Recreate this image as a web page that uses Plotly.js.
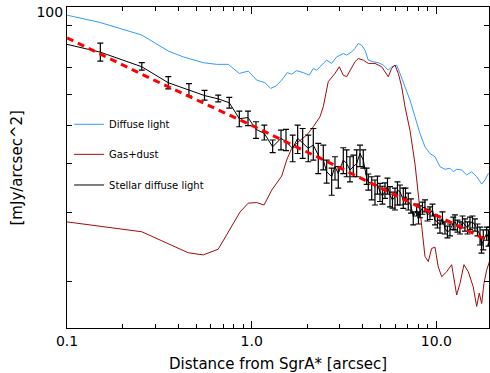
<!DOCTYPE html>
<html>
<head>
<meta charset="utf-8">
<script src="https://cdn.plot.ly/plotly-3.0.1.min.js"></script>
<style>html,body{margin:0;padding:0;background:#fff;}#chart{width:490px;height:373px;}</style>
</head>
<body>
<div id="chart"></div>
<script>
// ---- Data ----
const xTickVals = [0.1, 1, 10];
const xTickText = ['0.1', '1.0', '10.0'];
const xMinorVals = [0.2,0.3,0.4,0.5,0.6,0.7,0.8,0.9,2,3,4,5,6,7,8,9];
const yTickVals = [100];
const yTickText = ['100'];
const yMinorVals = [20,30,40,50,60,70,90];

const diffuseX = [0.100,0.151,0.254,0.354,0.426,0.547,0.646,0.747,0.857,0.958,1.064,1.18,1.267,1.354,1.454,1.558,1.647,1.752,1.903,2.05,2.156,2.248,2.343,2.547,2.711,2.886,3.133,3.268,3.478,3.625,3.778,3.941,4.107,4.28,4.555,4.849,5.159,5.491,5.728,6.096,6.353,6.761,7.195,7.658,8.15,8.675,9.234,9.826,10.46,11.13,11.85,12.35,12.88,13.71,14.59,15.53,16.53,17.59,18.33,19.1,19.5];
const diffuseY = [95.4,91.4,84.9,77.3,74.7,72.2,71.5,71.5,67.8,68.7,65.2,64.2,62.1,63.0,65.2,68.1,67.5,68.9,68.1,67.1,69.8,69.1,70.5,73.3,71.9,74.7,76.2,75.5,76.9,78.5,80.8,80.0,77.7,73.3,72.6,72.2,71.2,69.1,70.5,71.2,67.8,62.7,58.0,52.6,47.7,44.1,42.4,41.6,39.25,38.65,38.9,38.1,38.65,38.5,37.4,38.1,37.0,35.45,36.3,37.7,37.4];

const gasX = [0.1,0.254,0.4535,0.547,0.659,0.763,0.865,0.958,1.064,1.166,1.283,1.454,1.547,1.647,1.788,1.985,2.156,2.343,2.442,2.598,2.825,2.981,3.133,3.268,3.405,3.625,3.778,4.021,4.28,4.652,5.057,5.491,5.728,5.969,6.221,6.49,6.761,7.195,7.658,7.98,8.325,8.675,9.04,9.43,9.826,10.24,10.69,11.37,12.10,12.61,12.88,13.42,14.11,14.89,15.84,16.53,17.07,17.59,18.10,18.72,19.5];
const gasY = [28.4,26.8,23.7,23.4,24.2,27.35,30.1,31.7,31.8,31.35,34.2,37.15,40.8,43.7,45.4,47.2,49.6,52.6,55.8,64.6,67.8,70.5,67.1,66.5,69.1,72.6,74.0,73.3,71.9,71.9,70.5,66.5,69.8,71.2,67.8,62.7,55.8,48.6,40.0,33.6,27.6,23.2,22.5,24.3,24.5,21.8,20.6,21.2,22.1,19.8,18.5,19.8,22.1,21.2,19.4,17.3,18.7,17.6,19.8,21.4,22.7];

const stellarX = [0.1,0.1515,0.254,0.3536,0.4575,0.5553,0.659,0.756,0.857,0.955,1.055,1.17,1.299,1.441,1.534,1.667,1.774,1.888,2.025,2.156,2.294,2.442,2.547,2.711,2.825,2.944,3.133,3.268,3.405,3.549,3.703,3.859,4.021,4.195,4.28,4.465,4.652,4.798,4.951,5.108,5.27,5.436,5.608,5.785,5.969,6.157,6.353,6.62,6.804,7.045,7.286,7.497,7.821,8.0,8.15,8.41,8.675,8.95,9.234,9.526,9.826,10.14,10.46,10.79,11.13,11.48,11.85,12.35,12.61,13.01,13.42,13.85,14.28,14.74,15.2,15.69,16.18,16.7,17.23,17.55,17.95,18.72,19.15,19.5];
const stellarY = [80.4,76.8,70.5,64.2,61.5,59.55,58.4,57.1,52.0,52.35,48.85,47.7,44.1,46.35,45.4,43.7,46.35,45.0,43.7,44.55,42.0,40.8,38.1,37.0,39.25,37.7,40.8,40.0,38.5,39.25,40.0,42.4,40.8,36.65,35.9,35.6,34.9,35.45,33.9,33.05,34.2,35.0,33.2,32.3,32.9,34.2,33.9,32.3,33.05,32.0,31.2,29.3,30.45,29.05,30.1,30.8,31.0,29.6,29.85,30.45,28.7,28.4,27.9,29.05,27.35,26.75,27.1,28.2,28.4,27.7,27.35,28.4,27.9,27.4,28.2,28.4,27.9,27.1,26.3,24.8,25.5,26.55,25.85,26.3];
const stellarHigh = [null,81.0,72.2,66.5,63.9,61.4,59.7,58.9,54.35,54.35,51.07,50.1,45.9,48.6,48.85,47.2,50.1,49.1,47.2,49.1,45.0,44.55,40.8,38.9,41.6,39.25,43.85,43.3,41.6,42.0,43.3,44.55,43.3,38.9,37.6,37.0,36.3,37.15,35.6,35.0,35.7,36.7,34.9,33.8,34.6,35.9,35.25,34.6,34.6,33.6,32.5,30.1,31.5,30.1,31.2,31.9,32.3,30.6,31.0,31.5,29.6,29.4,28.7,30.1,28.4,27.7,28.05,29.2,29.6,28.7,28.4,29.4,28.9,28.4,29.2,29.4,28.9,28.05,27.55,26.0,27.1,27.55,27.1,27.55];
const stellarLow = [null,72.9,69.1,61.9,59.4,58.0,57.4,55.3,49.6,49.9,46.35,45.9,42.6,43.3,43.1,40.4,42.4,41.2,40.4,40.8,37.7,38.5,35.65,33.2,36.3,34.6,37.7,37.0,35.9,37.0,37.0,39.25,38.9,35.4,34.2,32.3,31.35,33.4,32.0,31.5,32.6,33.4,31.0,30.8,30.45,31.35,31.35,30.75,31.5,30.45,29.9,27.9,29.4,28.05,29.1,29.7,30.1,28.55,28.8,29.4,27.9,27.4,26.6,28.05,26.45,25.85,26.15,27.15,27.1,26.75,26.45,27.4,26.9,26.45,27.15,27.4,26.9,26.15,24.8,23.65,24.1,25.5,24.65,24.8];

const modelX = [0.1, 0.3, 1, 3, 10, 19.5];
const modelY = [83.5, 65.0, 50.0, 39.0, 29.5, 25.3];

// ---- Build traces ----
const errPlus = stellarHigh.map((h, i) => h === null ? NaN : h - stellarY[i]);
const errMinus = stellarLow.map((l, i) => l === null ? NaN : stellarY[i] - l);

const traces = [
  {x: diffuseX, y: diffuseY, type: 'scatter', mode: 'lines', name: 'Diffuse light',
   line: {color: '#3399ff', width: 1}, legend: 'legend'},
  {x: gasX, y: gasY, type: 'scatter', mode: 'lines', name: 'Gas+dust',
   line: {color: '#a00c0c', width: 1}, legend: 'legend2'},
  {x: stellarX, y: stellarY, type: 'scatter', mode: 'lines', name: 'Stellar diffuse light',
   line: {color: 'black', width: 1}, legend: 'legend3',
   error_y: {type: 'data', symmetric: false, array: errPlus, arrayminus: errMinus,
             color: 'black', thickness: 1.2, width: 3}},
  {x: modelX, y: modelY, type: 'scatter', mode: 'lines', showlegend: false,
   line: {color: '#ff0000', width: 3, dash: '7px,5px'}}
];

const legendBase = {xanchor: 'left', yanchor: 'middle', bgcolor: 'rgba(0,0,0,0)',
  borderwidth: 0, font: {family: 'DejaVu Sans', size: 10, color: 'black'}, itemwidth: 30};

const axisCommon = {
  type: 'log', showgrid: false, zeroline: false, showline: true, linecolor: 'black', linewidth: 1,
  mirror: 'ticks', ticks: 'inside', tickcolor: 'black', tickwidth: 1, tickmode: 'array',
  tickfont: {family: 'DejaVu Sans', size: 14, color: 'black'}
};

const layout = {
  width: 490, height: 373,
  margin: {l: 67, r: 1, t: 7, b: 45, pad: 0},
  paper_bgcolor: 'white', plot_bgcolor: 'white',
  font: {family: 'DejaVu Sans', size: 14, color: 'black'},
  showlegend: true,
  xaxis: Object.assign({}, axisCommon, {
    range: [-1, 1.285], tickvals: xTickVals, ticktext: xTickText, ticklen: 7,
    minor: {tickmode: 'array', tickvals: xMinorVals, ticks: 'inside', ticklen: 4, tickcolor: 'black', tickwidth: 1, showgrid: false}
  }),
  yaxis: Object.assign({}, axisCommon, {
    range: [1.1832, 2.0003], tickvals: yTickVals, ticktext: yTickText, ticklen: 5,
    ticklabelshift: 5,
    minor: {tickmode: 'array', tickvals: yMinorVals, ticks: 'inside', ticklen: 5, tickcolor: 'black', tickwidth: 1, showgrid: false}
  }),
  legend: Object.assign({}, legendBase, {x: 0.005, y: 0.6346}),
  legend2: Object.assign({}, legendBase, {x: 0.005, y: 0.541}),
  legend3: Object.assign({}, legendBase, {x: 0.005, y: 0.4455}),
  annotations: [
    {text: 'Distance from SgrA* [arcsec]', xref: 'paper', yref: 'paper', x: 0.5, y: -0.112,
     xanchor: 'center', yanchor: 'middle', showarrow: false, font: {family: 'DejaVu Sans', size: 15, color: 'black'}},
    {text: '[mJy/arcsec^2]', xref: 'paper', yref: 'paper', x: -0.1185, y: 0.5, textangle: -90,
     xanchor: 'center', yanchor: 'middle', showarrow: false, font: {family: 'DejaVu Sans', size: 15, color: 'black'}}
  ]
};

Plotly.newPlot('chart', traces, layout, {displayModeBar: false, staticPlot: true});
</script>
</body>
</html>
